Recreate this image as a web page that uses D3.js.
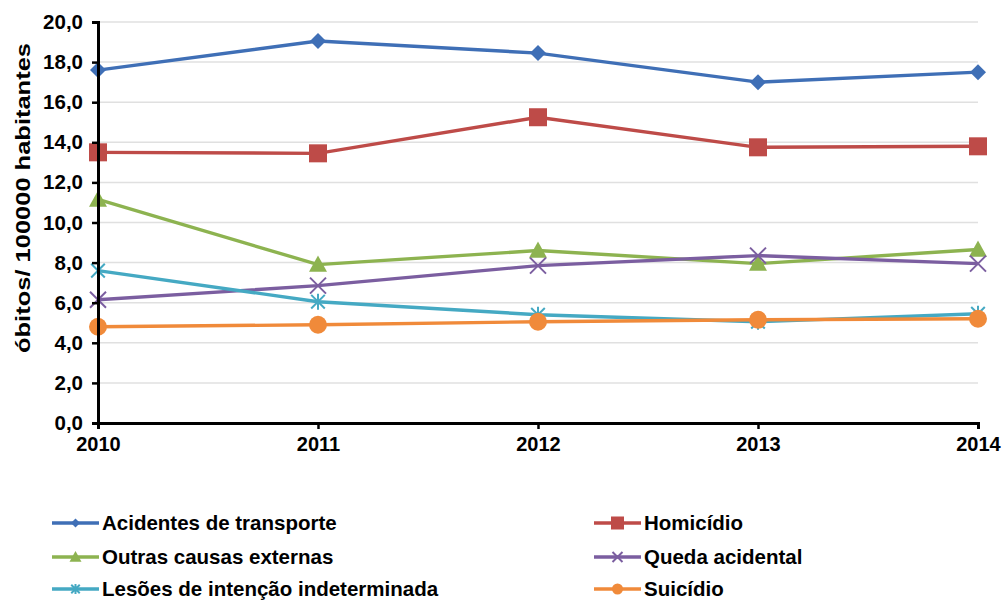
<!DOCTYPE html>
<html>
<head>
<meta charset="utf-8">
<script src="https://cdn.jsdelivr.net/npm/d3@7"></script>
<style>
  body { margin: 0; background: #fff; }
  svg { font-family: "Liberation Sans", Arial, sans-serif; font-weight: bold; }
</style>
</head>
<body>
<div id="viz"></div>
<script>
const years = [2010, 2011, 2012, 2013, 2014];
const yTicks = [0, 2, 4, 6, 8, 10, 12, 14, 16, 18, 20];

const acidentes = [17.6, 19.05, 18.45, 17.0, 17.5];
const homicidio = [13.5, 13.45, 15.25, 13.75, 13.8];
const outras = [11.15, 7.9, 8.6, 7.95, 8.65];
const queda = [6.15, 6.85, 7.85, 8.35, 7.95];
const lesoes = [7.6, 6.05, 5.4, 5.05, 5.45];
const suicidio = [4.8, 4.9, 5.05, 5.15, 5.2];

const series = [
  { name: 'Acidentes de transporte', values: acidentes, color: '#3f6fb6', marker: 'diamond' },
  { name: 'Homicídio', values: homicidio, color: '#be4b48', marker: 'square' },
  { name: 'Outras causas externas', values: outras, color: '#8db350', marker: 'triangle' },
  { name: 'Queda acidental', values: queda, color: '#7b5ea0', marker: 'cross' },
  { name: 'Lesões de intenção indeterminada', values: lesoes, color: '#45a9c3', marker: 'star' },
  { name: 'Suicídio', values: suicidio, color: '#f08a3a', marker: 'circle' }
];

const W = 1005, H = 604;
const margin = { top: 22, right: 27, bottom: 181, left: 98 };
const width = W - margin.left - margin.right;
const height = H - margin.top - margin.bottom;

const svg = d3.select('#viz').append('svg')
  .attr('width', W).attr('height', H);

const g = svg.append('g')
  .attr('transform', `translate(${margin.left},${margin.top})`);

const x = d3.scalePoint().domain(years).range([0, width]);
const y = d3.scaleLinear().domain([0, 20]).range([height, 0]);

// gridlines
g.selectAll('.grid').data(yTicks.filter(d => d > 0)).join('line')
  .attr('x1', 0).attr('x2', width)
  .attr('y1', d => y(d)).attr('y2', d => y(d))
  .attr('stroke', '#e0e0e0').attr('stroke-width', 1.5);

function drawMarker(sel, type, color, s) {
  if (type === 'diamond') {
    sel.append('path').attr('d', `M0,${-s}L${s},0L0,${s}L${-s},0Z`).attr('fill', color);
  } else if (type === 'square') {
    sel.append('rect').attr('x', -s).attr('y', -s)
      .attr('width', s * 2).attr('height', s * 2).attr('fill', color);
  } else if (type === 'triangle') {
    sel.append('path').attr('d', `M0,${-s}L${s},${s * 0.8}L${-s},${s * 0.8}Z`).attr('fill', color);
  } else if (type === 'cross') {
    sel.append('path').attr('d', `M${-s},${-s}L${s},${s}M${-s},${s}L${s},${-s}`)
      .attr('stroke', color).attr('stroke-width', 2).attr('fill', 'none');
  } else if (type === 'star') {
    const k = s * 0.85;
    sel.append('path').attr('d', `M${-k},${-k}L${k},${k}M${-k},${k}L${k},${-k}M0,${-s}L0,${s}`)
      .attr('stroke', color).attr('stroke-width', 2).attr('fill', 'none');
  } else if (type === 'circle') {
    sel.append('circle').attr('r', s).attr('fill', color);
  }
}

const markerSize = { diamond: 8, square: 9, triangle: 9, cross: 8, star: 8, circle: 9 };
const legendMarkerSize = { diamond: 4.5, square: 6.5, triangle: 6, cross: 5, star: 5, circle: 5.5 };

const line = d3.line().x((d, i) => x(years[i])).y(d => y(d));

series.forEach(s => {
  g.append('path')
    .datum(s.values)
    .attr('d', line)
    .attr('fill', 'none')
    .attr('stroke', s.color)
    .attr('stroke-width', 3.4);
});

series.forEach(s => {
  s.values.forEach((v, i) => {
    const m = g.append('g').attr('transform', `translate(${x(years[i])},${y(v)})`);
    drawMarker(m, s.marker, s.color, markerSize[s.marker]);
  });
});

// axes
const yAxis = g.append('g')
  .call(d3.axisLeft(y).tickValues(yTicks).tickSize(6).tickPadding(9)
    .tickFormat(d => d3.format('.1f')(d).replace('.', ',')));
yAxis.select('.domain').attr('stroke', '#000').attr('stroke-width', 3);
yAxis.selectAll('.tick line').attr('stroke', '#000').attr('stroke-width', 2.5);
yAxis.selectAll('.tick text').attr('fill', '#000').style('font-size', '20.5px').style('font-weight', 'bold');

const xAxis = g.append('g')
  .attr('transform', `translate(0,${height})`)
  .call(d3.axisBottom(x).tickSize(6).tickPadding(8));
xAxis.select('.domain').attr('stroke', '#000').attr('stroke-width', 3);
xAxis.selectAll('.tick line').attr('stroke', '#000').attr('stroke-width', 2.5);
xAxis.selectAll('.tick text').attr('fill', '#000').style('font-size', '20px').style('font-weight', 'bold');

svg.append('text')
  .attr('transform', `translate(30,198) rotate(-90)`)
  .attr('text-anchor', 'middle')
  .attr('textLength', 310)
  .attr('lengthAdjust', 'spacingAndGlyphs')
  .style('font-size', '21px')
  .text('óbitos/ 100000 habitantes');

// legend
const legendPos = [
  [52, 523], [594, 523],
  [52, 557], [594, 557],
  [52, 589], [594, 589]
];
series.forEach((s, i) => {
  const [lx, ly] = legendPos[i];
  const row = svg.append('g').attr('transform', `translate(${lx},${ly})`);
  row.append('line').attr('x1', 0).attr('x2', 47).attr('y1', 0).attr('y2', 0)
    .attr('stroke', s.color).attr('stroke-width', 3.4);
  const m = row.append('g').attr('transform', 'translate(23.5,0)');
  drawMarker(m, s.marker, s.color, legendMarkerSize[s.marker]);
  row.append('text').attr('x', 50).attr('y', 7)
    .style('font-size', '20.5px').text(s.name);
});
</script>
</body>
</html>
